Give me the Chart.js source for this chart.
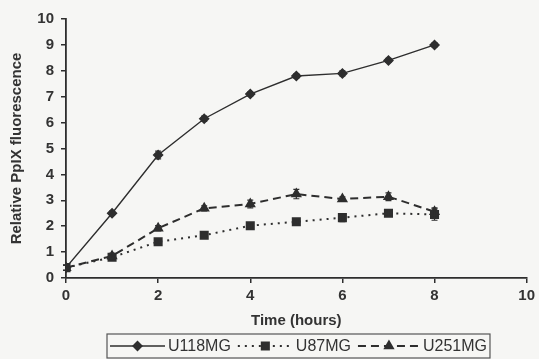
<!DOCTYPE html>
<html>
<head>
<meta charset="utf-8">
<script src="https://cdn.jsdelivr.net/npm/chart.js@4/dist/chart.umd.min.js"></script>
<style>
  body { margin: 0; background: #f6f6f4; }
  canvas { display: block; }
</style>
</head>
<body>
<canvas id="myChart" width="539" height="359"></canvas>
<script>
// time points (hours)
const hours = [0, 1, 2, 3, 4, 5, 6, 7, 8];
const seriesNames = ['U118MG', 'U87MG', 'U251MG'];

const u118 = [0.4, 2.5, 4.75, 6.15, 7.1, 7.8, 7.9, 8.4, 9.0];
const u118Err = [0.1, 0.08, 0.15, 0.1, 0.08, 0.08, 0.1, 0.08, 0.08];
const u87 = [0.4, 0.8, 1.4, 1.65, 2.02, 2.17, 2.33, 2.5, 2.45];
const u87Err = [0.1, 0.08, 0.1, 0.08, 0.1, 0.1, 0.15, 0.12, 0.22];
const u251 = [0.4, 0.85, 1.92, 2.69, 2.86, 3.24, 3.05, 3.14, 2.56];
const u251Err = [0.1, 0.1, 0.1, 0.1, 0.15, 0.18, 0.08, 0.15, 0.15];

const xTicks = [0, 2, 4, 6, 8, 10];
const yTicks = [0, 1, 2, 3, 4, 5, 6, 7, 8, 9, 10];

const ink = '#2e2e2e';
const fontFam = '"Liberation Sans", Arial, sans-serif';

function pts(vals) {
  return hours.map(function (h, i) { return { x: h, y: vals[i] }; });
}

const errors = [u118Err, u87Err, u251Err];

// small vertical error bars drawn through the scales
const errorBars = {
  id: 'errorBars',
  afterDatasetsDraw: function (chart) {
    const ctx = chart.ctx;
    const ys = chart.scales.y;
    ctx.save();
    ctx.strokeStyle = ink;
    ctx.lineWidth = 1.2;
    chart.data.datasets.forEach(function (ds, di) {
      const meta = chart.getDatasetMeta(di);
      meta.data.forEach(function (p, i) {
        const v = ds.data[i].y, e = errors[di][i];
        const y1 = ys.getPixelForValue(v - e), y2 = ys.getPixelForValue(v + e);
        ctx.beginPath();
        ctx.moveTo(p.x, y1); ctx.lineTo(p.x, y2);
        ctx.moveTo(p.x - 3, y1); ctx.lineTo(p.x + 3, y1);
        ctx.moveTo(p.x - 3, y2); ctx.lineTo(p.x + 3, y2);
        ctx.stroke();
      });
    });
    ctx.restore();
  }
};

// boxed legend with line + marker samples
const boxLegend = {
  id: 'boxLegend',
  afterDraw: function (chart) {
    const ctx = chart.ctx;
    const segLen = [55, 55, 62];
    const top = 334, bottom = 358;
    const cy = (top + bottom) / 2;
    ctx.save();
    ctx.font = '16px ' + fontFam;
    ctx.textBaseline = 'middle';
    let x = 110;
    chart.data.datasets.forEach(function (ds, i) {
      ctx.strokeStyle = ink;
      ctx.lineWidth = ds.borderWidth;
      ctx.setLineDash(ds.borderDash || []);
      ctx.beginPath();
      ctx.moveTo(x, cy); ctx.lineTo(x + segLen[i], cy);
      ctx.stroke();
      ctx.setLineDash([]);
      ctx.fillStyle = ink;
      Chart.helpers.drawPoint(ctx, {
        pointStyle: ds.pointStyle, radius: ds.pointRadius, rotation: 0, borderWidth: 1
      }, x + segLen[i] / 2, cy);
      x += segLen[i] + 3;
      ctx.fillStyle = '#333';
      ctx.fillText(ds.label, x, cy + 1);
      x += ctx.measureText(ds.label).width;
      if (i < 2) x += 7;
    });
    ctx.strokeStyle = '#555';
    ctx.lineWidth = 1.2;
    ctx.strokeRect(107, top, x - 107 + 3, bottom - top);
    ctx.restore();
  }
};

const data = {
  datasets: [{
    label: seriesNames[0],
    data: pts(u118),
    borderColor: ink,
    backgroundColor: ink,
    borderWidth: 1.4,
    pointStyle: 'rectRot',
    pointRadius: 4.5
  }, {
    label: seriesNames[1],
    data: pts(u87),
    borderColor: ink,
    backgroundColor: ink,
    borderWidth: 2,
    borderDash: [2, 5],
    pointStyle: 'rect',
    pointRadius: 5
  }, {
    label: seriesNames[2],
    data: pts(u251),
    borderColor: ink,
    backgroundColor: ink,
    borderWidth: 2,
    borderDash: [8, 5],
    pointStyle: 'triangle',
    pointRadius: 4.5
  }]
};

const config = {
  type: 'line',
  data: data,
  options: {
    responsive: false,
    animation: false,
    layout: { padding: { left: 0, top: 19, right: 11, bottom: 29 } },
    plugins: { legend: { display: false }, tooltip: { enabled: false } },
    scales: {
      x: {
        type: 'linear', min: 0, max: 10,
        afterFit: function (s) { s.height = 52; },
        afterBuildTicks: function (s) { s.ticks = xTicks.map(function (v) { return { value: v }; }); },
        grid: { drawOnChartArea: false, drawTicks: true, tickLength: 5, color: ink, lineWidth: 1.5 },
        border: { color: ink, width: 1.8 },
        ticks: { color: '#333', padding: 4, font: { family: fontFam, size: 15, weight: 'bold' } },
        title: { display: true, text: 'Time (hours)', color: '#333', padding: 0,
                 font: { family: fontFam, size: 15, weight: 'bold' } }
      },
      y: {
        min: 0, max: 10,
        afterFit: function (s) { s.width = 66; },
        afterBuildTicks: function (s) { s.ticks = yTicks.map(function (v) { return { value: v }; }); },
        grid: { drawOnChartArea: false, drawTicks: true, tickLength: 5, color: ink, lineWidth: 1.5 },
        border: { color: ink, width: 1.8 },
        ticks: { color: '#333', padding: 7, font: { family: fontFam, size: 15, weight: 'bold' } },
        title: { display: true, text: 'Relative PpIX fluorescence', color: '#333', padding: { top: 8 },
                 font: { family: fontFam, size: 15, weight: 'bold' } }
      }
    }
  },
  plugins: [errorBars, boxLegend]
};

const myChart = new Chart(document.getElementById('myChart'), config);
</script>
</body>
</html>
